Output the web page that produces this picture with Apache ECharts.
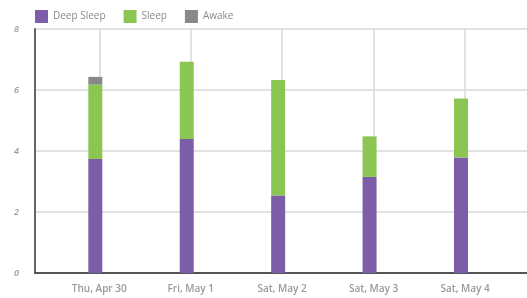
<!DOCTYPE html>
<html>
<head>
<meta charset="utf-8">
<script src="https://cdn.jsdelivr.net/npm/echarts@6/dist/echarts.min.js"></script>
<style>
  html, body { margin: 0; padding: 0; background: #fff; }
  #chart { width: 527px; height: 298px; }
</style>
</head>
<body>
<div id="chart"></div>
<script>
// sleep hours per night
const days = ['Thu, Apr 30', 'Fri, May 1', 'Sat, May 2', 'Sat, May 3', 'Sat, May 4'];
const deepSleep = [3.74, 4.39, 2.54, 3.15, 3.79];
const sleep = [2.44, 2.54, 3.79, 1.33, 1.93];
const awake = [0.25, 0, 0, 0, 0];
const yTicks = [0, 2, 4, 6, 8];

function initSleepChart() {
    const chart = echarts.init(document.getElementById('chart'));
    const idx = days.map((d, i) => i);
    const labelFont = { color: '#999', fontWeight: 600, fontFamily: 'Open Sans' };

    const option = {
        animation: false,
        legend: {
            data: ['Deep Sleep', 'Sleep', 'Awake'],
            left: 35,
            top: 10,
            padding: 0,
            itemWidth: 13,
            itemHeight: 13,
            itemGap: 18,
            icon: 'rect',
            textStyle: { color: '#8a8a8a', fontSize: 10, fontFamily: 'Open Sans' }
        },
        // grid 0: axes, gridlines and labels; grid 1: the bars
        grid: [
            { left: 35, right: 0, top: 29, bottom: 25 },
            { left: 53.6, right: 16.3, top: 29, bottom: 25 }
        ],
        xAxis: [
            {
                gridIndex: 0,
                type: 'value',
                min: -0.703,
                max: 4.678,
                axisLine: { show: true, onZero: false, lineStyle: { color: '#555', width: 2 } },
                axisTick: { show: false, customValues: idx },
                axisLabel: Object.assign({
                    customValues: idx,
                    formatter: v => days[Math.round(v)] || '',
                    fontSize: 10,
                    margin: 11
                }, labelFont),
                splitLine: { show: true, lineStyle: { color: '#d8d8d8', width: 1.5 } }
            },
            {
                gridIndex: 1,
                type: 'category',
                data: days,
                show: false
            }
        ],
        yAxis: [
            {
                gridIndex: 0,
                type: 'value',
                min: 0,
                max: 8,
                interval: 2,
                axisLine: { show: true, onZero: false, lineStyle: { color: '#666', width: 2 } },
                axisTick: { show: false },
                axisLabel: Object.assign({
                    formatter: v => yTicks.includes(v) ? String(v) : '',
                    fontStyle: 'italic',
                    fontSize: 9,
                    margin: 16
                }, labelFont),
                splitLine: { show: true, lineStyle: { color: '#d8d8d8', width: 1.5 } }
            },
            {
                gridIndex: 1,
                type: 'value',
                min: 0,
                max: 8,
                show: false,
                splitLine: { show: false }
            }
        ],
        series: [
            {
                name: 'Deep Sleep', type: 'bar', stack: 's', barWidth: 14, barGap: 0,
                xAxisIndex: 1, yAxisIndex: 1,
                data: deepSleep, itemStyle: { color: '#7b5ea7' }
            },
            {
                name: 'Sleep', type: 'bar', stack: 's', barWidth: 14,
                xAxisIndex: 1, yAxisIndex: 1,
                data: sleep, itemStyle: { color: '#8bc653' }
            },
            {
                name: 'Awake', type: 'bar', stack: 's', barWidth: 14,
                xAxisIndex: 1, yAxisIndex: 1,
                data: awake, itemStyle: { color: '#888888' }
            },
            {
                // empty stack, only nudges the bars a little left of the ticks
                name: 'pad', type: 'bar', stack: 'pad', barWidth: 8,
                xAxisIndex: 1, yAxisIndex: 1,
                data: [], itemStyle: { color: 'transparent' }
            }
        ]
    };

    chart.setOption(option);
    window.addEventListener('resize', () => chart.resize());
}

document.addEventListener('DOMContentLoaded', function() {
    if (typeof echarts === 'undefined') {
        console.error('ECharts not loaded');
        return;
    }
    initSleepChart();
});
</script>
</body>
</html>
